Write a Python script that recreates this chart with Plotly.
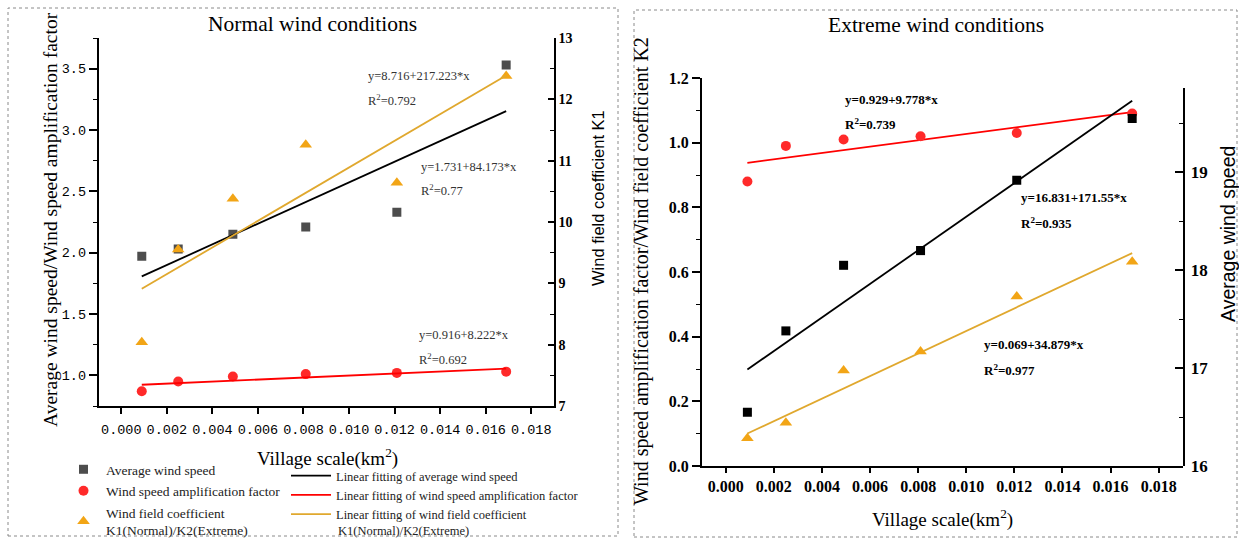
import plotly.graph_objects as go

# ---- data -------------------------------------------------------------
village_scale = [0.0009, 0.0025, 0.0049, 0.0081, 0.0121, 0.0169]

normal_avg_speed = [1.97, 2.03, 2.15, 2.21, 2.33, 3.53]
normal_amp_factor = [0.87, 0.95, 0.99, 1.01, 1.02, 1.03]
normal_k1 = [8.04, 9.55, 10.38, 11.26, 10.64, 12.38]

extreme_avg_speed = [16.55, 17.38, 18.05, 18.20, 18.92, 19.55]
extreme_amp_factor = [0.88, 0.99, 1.01, 1.02, 1.03, 1.09]
extreme_k2 = [0.086, 0.134, 0.295, 0.354, 0.524, 0.632]

# linear fits: (intercept, slope, R^2)
normal_fit_avg = (1.731, 84.173, 0.77)
normal_fit_amp = (0.916, 8.222, 0.692)
normal_fit_k1 = (8.716, 217.223, 0.792)
extreme_fit_amp = (0.929, 9.778, 0.739)
extreme_fit_avg = (16.831, 171.55, 0.935)
extreme_fit_k2 = (0.069, 34.879, 0.977)

x_ticks = [0.000, 0.002, 0.004, 0.006, 0.008, 0.010, 0.012, 0.014, 0.016, 0.018]

# ---- styling ----------------------------------------------------------
W, H = 1239, 540
SERIF = "Liberation Serif"
SANS = "Liberation Sans"
MONO = "Liberation Mono"
C_SQ_N = "#4d4d4d"
C_SQ_E = "#000000"
C_RED = "#ff2a2a"
C_ORANGE = "#f2a516"
C_ORANGE_LINE = "#e0a82e"


def px(x):
    return x / W


def py(y):
    return 1 - y / H


def fit_line(coef):
    b0, b1, _ = coef
    xs = [min(village_scale), max(village_scale)]
    return xs, [b0 + b1 * v for v in xs]


def eq_text(coef):
    b0, b1, r2 = coef
    return f"y={b0:g}+{b1:g}*x", f"R<sup>2</sup>={r2:g}"


fig = go.Figure()

# ---- Normal wind conditions (left panel) ------------------------------
fig.add_trace(go.Scatter(
    x=village_scale, y=normal_avg_speed, mode="markers", name="Average wind speed",
    marker=dict(symbol="square", size=9, color=C_SQ_N),
    xaxis="x", yaxis="y", legend="legend", legendgroup="a"))
fig.add_trace(go.Scatter(
    x=village_scale, y=normal_amp_factor, mode="markers", name="Wind speed amplification factor",
    marker=dict(symbol="circle", size=10, color=C_RED),
    xaxis="x", yaxis="y", legend="legend", legendgroup="b"))
fig.add_trace(go.Scatter(
    x=village_scale, y=normal_k1, mode="markers",
    name="Wind field coefficient<br>K1(Normal)/K2(Extreme)",
    marker=dict(symbol="triangle-up", size=11, color=C_ORANGE),
    xaxis="x", yaxis="y2", legend="legend", legendgroup="c"))

fx, fy = fit_line(normal_fit_avg)
fig.add_trace(go.Scatter(x=fx, y=fy, mode="lines", name="Linear fitting of average wind speed",
                         line=dict(color="black", width=1.8), xaxis="x", yaxis="y",
                         legend="legend2", legendgroup="d"))
fx, fy = fit_line(normal_fit_amp)
fig.add_trace(go.Scatter(x=fx, y=fy, mode="lines",
                         name="Linear fitting of wind speed amplification factor",
                         line=dict(color="#ff0000", width=1.8), xaxis="x", yaxis="y",
                         legend="legend2", legendgroup="e"))
fx, fy = fit_line(normal_fit_k1)
fig.add_trace(go.Scatter(x=fx, y=fy, mode="lines",
                         name="Linear fitting of wind field coefficient",
                         line=dict(color=C_ORANGE_LINE, width=1.8), xaxis="x", yaxis="y2",
                         legend="legend2", legendgroup="f"))

# ---- Extreme wind conditions (right panel) ----------------------------
fx, fy = fit_line(extreme_fit_amp)
fig.add_trace(go.Scatter(x=fx, y=fy, mode="lines", line=dict(color="#ff0000", width=1.8),
                         xaxis="x2", yaxis="y3", showlegend=False))
fx, fy = fit_line(extreme_fit_k2)
fig.add_trace(go.Scatter(x=fx, y=fy, mode="lines", line=dict(color=C_ORANGE_LINE, width=1.8),
                         xaxis="x2", yaxis="y3", showlegend=False))
fx, fy = fit_line(extreme_fit_avg)
fig.add_trace(go.Scatter(x=fx, y=fy, mode="lines", line=dict(color="black", width=1.8),
                         xaxis="x2", yaxis="y4", showlegend=False))
fig.add_trace(go.Scatter(x=village_scale, y=extreme_amp_factor, mode="markers",
                         marker=dict(symbol="circle", size=10, color=C_RED),
                         xaxis="x2", yaxis="y3", showlegend=False))
fig.add_trace(go.Scatter(x=village_scale, y=extreme_k2, mode="markers",
                         marker=dict(symbol="triangle-up", size=11, color=C_ORANGE),
                         xaxis="x2", yaxis="y3", showlegend=False))
fig.add_trace(go.Scatter(x=village_scale, y=extreme_avg_speed, mode="markers",
                         marker=dict(symbol="square", size=9, color=C_SQ_E),
                         xaxis="x2", yaxis="y4", showlegend=False))

# ---- axes -------------------------------------------------------------
common = dict(showgrid=False, zeroline=False, showline=True, linecolor="black",
              linewidth=1.5, tickcolor="black", tickwidth=1.5)

fig.update_layout(
    width=W, height=H, margin=dict(l=0, r=0, t=0, b=0, autoexpand=False),
    font=dict(family=SERIF, size=14, color="black"),
    paper_bgcolor="white", plot_bgcolor="rgba(0,0,0,0)",
    xaxis=dict(domain=[px(98.5), px(554)], range=[-0.001, 0.019], anchor="y",
               tickvals=x_ticks, tickformat=".3f", ticks="outside", ticklen=6,
               ticklabelstandoff=4,
               tickfont=dict(family=MONO, size=13.5, color="black"), **common),
    yaxis=dict(domain=[py(406), py(38)], range=[0.75, 3.75], anchor="x",
               dtick=0.5, tick0=0, tickformat=".1f", ticks="outside", ticklen=8,
               minor=dict(dtick=0.25, tick0=0, ticks="outside", ticklen=4,
                          tickcolor="black", tickwidth=1.2),
               tickfont=dict(family=MONO, size=13.5, color="black"), **common),
    yaxis2=dict(overlaying="y", side="right", anchor="x", range=[7, 13],
                dtick=1, tick0=0, ticks="inside", ticklen=6,
                minor=dict(dtick=0.5, tick0=0, ticks="inside", ticklen=4,
                           tickcolor="black", tickwidth=1.2),
                tickfont=dict(family=SERIF, size=14, color="black", weight="bold"), **common),
    xaxis2=dict(domain=[px(701.7), px(1182.7)], range=[-0.001, 0.019], anchor="y3",
                tickvals=x_ticks, tickformat=".3f", ticks="outside", ticklen=5,
                ticklabelstandoff=0,
                tickfont=dict(family=SERIF, size=16, color="black", weight="bold"), **common),
    yaxis3=dict(domain=[py(466), py(78)], range=[0, 1.2], anchor="x2",
                dtick=0.2, tick0=0, tickformat=".1f", ticks="outside", ticklen=8,
                minor=dict(dtick=0.1, tick0=0, ticks="outside", ticklen=4,
                           tickcolor="black", tickwidth=1.2),
                tickfont=dict(family=SERIF, size=16, color="black", weight="bold"), **common),
    yaxis4=dict(domain=[py(466), py(88)], range=[16, 16 + (466 - 88) / 97.9],
                anchor="x2", side="right",
                dtick=1, tick0=0, ticks="inside", ticklen=8, ticklabelstandoff=3,
                minor=dict(dtick=0.5, tick0=0, ticks="inside", ticklen=4,
                           tickcolor="black", tickwidth=1.2),
                tickfont=dict(family=SERIF, size=17, color="black", weight="bold"), **common),
    legend=dict(x=px(61), y=py(454), xanchor="left", yanchor="top", maxheight=200,
                font=dict(family=SERIF, size=13.5, color="#222"), bgcolor="rgba(0,0,0,0)",
                tracegroupgap=1, itemwidth=35),
    legend2=dict(x=px(286), y=py(461), xanchor="left", yanchor="top", maxheight=200,
                 font=dict(family=SERIF, size=12.5, color="#222"), bgcolor="rgba(0,0,0,0)",
                 tracegroupgap=0, itemwidth=40),
)

# ---- panel frames -----------------------------------------------------
for x0, y0, x1, y1 in [(8, 8, 618, 536), (634, 10, 1237, 537)]:
    fig.add_shape(type="rect", xref="paper", yref="paper",
                  x0=px(x0), x1=px(x1), y0=py(y1), y1=py(y0),
                  line=dict(color="#8a8a8a", width=1, dash="dot"), layer="below")


# ---- titles and labels ------------------------------------------------
def label(text, x, y, size, family=SERIF, angle=0, anchor="center", color="black", bold=False):
    fig.add_annotation(text=text, x=px(x), y=py(y), xref="paper", yref="paper",
                       showarrow=False, textangle=angle, xanchor=anchor, yanchor="middle",
                       font=dict(family=family, size=size, color=color,
                                 weight="bold" if bold else "normal"))


label("Normal wind conditions", 312, 24, 21.5)
label("Extreme wind conditions", 936, 25, 21.5)
label("Village scale(km<sup>2</sup>)", 327, 457, 19)
label("Village scale(km<sup>2</sup>)", 942, 518, 19)
label("Average wind speed/Wind speed amplification factor", 50, 220, 19.5, angle=-90)
label("Wind field coefficient K1", 598, 198, 16.5, family=SANS, angle=-90)
label("Wind speed amplification factor/Wind field coefficient K2", 641, 271, 20, angle=-90)
label("Average wind speed", 1228, 234, 19.5, family=SANS, angle=-90)

# continuation line of the wind field coefficient fit entry
label("K1(Normal)/K2(Extreme)", 336, 531, 12.5, anchor="left", color="#222")

# fit equations
for coef, x, y1, y2 in [(normal_fit_k1, 366, 76, 100),
                        (normal_fit_avg, 419, 167, 190),
                        (normal_fit_amp, 417, 335, 359)]:
    t1, t2 = eq_text(coef)
    label(t1, x, y1, 12.5, anchor="left", color="#333")
    label(t2, x, y2, 12.5, anchor="left", color="#333")

for coef, x, y1, y2 in [(extreme_fit_amp, 843, 99, 124),
                        (extreme_fit_avg, 1019, 197, 223),
                        (extreme_fit_k2, 982, 344, 370)]:
    t1, t2 = eq_text(coef)
    label(t1, x, y1, 13, anchor="left", bold=True)
    label(t2, x, y2, 13, anchor="left", bold=True)

fig.write_html("out.html")
